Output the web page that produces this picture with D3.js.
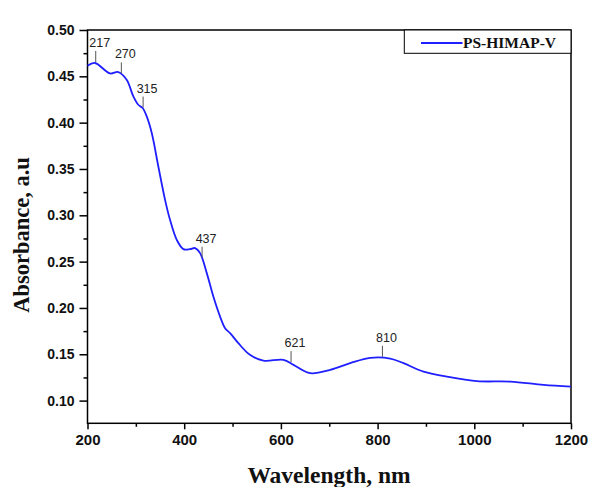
<!DOCTYPE html>
<html>
<head>
<meta charset="utf-8">
<script src="https://cdn.jsdelivr.net/npm/d3@7"></script>
<style>
  html, body { margin: 0; padding: 0; background: #fff; }
  svg { display: block; }
</style>
</head>
<body>
<svg id="chart" width="592" height="487"></svg>
<script>
// UV-Vis-NIR absorbance spectrum of PS-HIMAP-V
const wavelength = [200, 215.5, 246.6, 263.7, 281, 294.8, 305, 314, 322.5, 332.9,
  346.5, 360.4, 370.7, 384.6, 398.3, 412, 422.5, 432.8, 446.7, 460.3,
  474.2, 484.5, 494.9, 512, 536, 563.8, 605.2, 626, 660.5, 701.9,
  743.3, 784.7, 826, 853.6, 895, 950, 1005.5, 1074.4, 1143.3, 1200];
const absorbance = [0.4614, 0.4644, 0.4531, 0.4546, 0.4463, 0.4283, 0.4193, 0.4158, 0.4067, 0.3888,
  0.3527, 0.3167, 0.2951, 0.2735, 0.2635, 0.2635, 0.2646, 0.2592, 0.2376, 0.2123,
  0.1907, 0.1782, 0.1728, 0.162, 0.1494, 0.1432, 0.144, 0.1386, 0.1296, 0.1332,
  0.1404, 0.1461, 0.1454, 0.1404, 0.1313, 0.1253, 0.121, 0.1205, 0.117, 0.1151];

// Annotated band positions (nm)
const peaks = [217, 270, 315, 437, 621, 810];

const xTicks = [200, 400, 600, 800, 1000, 1200];
const xMinorTicks = [300, 500, 700, 900, 1100];
const yTicks = [0.10, 0.15, 0.20, 0.25, 0.30, 0.35, 0.40, 0.45, 0.50];
const yMinorTicks = [0.125, 0.175, 0.225, 0.275, 0.325, 0.375, 0.425, 0.475];

const seriesName = "PS-HIMAP-V";
const xTitle = "Wavelength, nm";
const yTitle = "Absorbance, a.u";

const svg = d3.select("#chart");
const m = { left: 87.5, right: 571, top: 30, bottom: 423.3 };

const x = d3.scaleLinear().domain([200, 1200]).range([m.left, m.right]);
const y = d3.scaleLinear().domain([0.0755, 0.50]).range([m.bottom, m.top]);

const spectrum = wavelength.map((w, i) => ({ w, a: absorbance[i] }));

// Frame
svg.append("rect")
  .attr("x", m.left).attr("y", m.top)
  .attr("width", m.right - m.left).attr("height", m.bottom - m.top)
  .attr("fill", "none").attr("stroke", "#000").attr("stroke-width", 1.5);

const tickFont = "'Liberation Sans', Arial, sans-serif";

// X axis
const gx = svg.append("g").attr("transform", `translate(0,${m.bottom})`);
gx.call(d3.axisBottom(x).tickValues(xTicks).tickSize(6).tickPadding(5).tickFormat(d3.format("d")));
gx.append("g").call(d3.axisBottom(x).tickValues(xMinorTicks).tickSize(3.5).tickFormat(""));
gx.selectAll(".domain").remove();
gx.selectAll("line").attr("stroke", "#000").attr("stroke-width", 1.5);
gx.selectAll("text")
  .attr("font-family", tickFont).attr("font-weight", "bold")
  .attr("font-size", "15px").attr("fill", "#111");

// Y axis
const gy = svg.append("g").attr("transform", `translate(${m.left},0)`);
gy.call(d3.axisLeft(y).tickValues(yTicks).tickSize(8).tickPadding(5).tickFormat(d3.format(".2f")));
gy.append("g").call(d3.axisLeft(y).tickValues(yMinorTicks).tickSize(4).tickFormat(""));
gy.selectAll(".domain").remove();
gy.selectAll("line").attr("stroke", "#000").attr("stroke-width", 1.5);
gy.selectAll("text")
  .attr("font-family", tickFont).attr("font-weight", "bold")
  .attr("font-size", "14px").attr("fill", "#111");

// Axis titles
const titleFont = "'Liberation Serif', 'Times New Roman', serif";
svg.append("text")
  .attr("x", 329).attr("y", 483)
  .attr("text-anchor", "middle")
  .attr("font-family", titleFont).attr("font-weight", "bold")
  .attr("font-size", "23.5px").attr("fill", "#111")
  .text(xTitle);
svg.append("text")
  .attr("transform", "translate(29,235) rotate(-90)")
  .attr("text-anchor", "middle")
  .attr("font-family", titleFont).attr("font-weight", "bold")
  .attr("font-size", "22.5px").attr("fill", "#111")
  .text(yTitle);

// Spectrum
const line = d3.line()
  .x(d => x(d.w)).y(d => y(d.a))
  .curve(d3.curveCatmullRom.alpha(0.5));
svg.append("path")
  .datum(spectrum)
  .attr("fill", "none")
  .attr("stroke", "#1f1fff")
  .attr("stroke-width", 1.8)
  .attr("d", line);

// Band annotations
const absAt = d3.scaleLinear().domain(wavelength).range(absorbance);
const stem = 11;
const ann = svg.append("g");
peaks.forEach(p => {
  const px = x(p), py = y(absAt(p)) - 1.5;
  ann.append("line")
    .attr("x1", px).attr("x2", px)
    .attr("y1", py).attr("y2", py - stem)
    .attr("stroke", "#555").attr("stroke-width", 1);
  ann.append("text")
    .attr("x", px + 4).attr("y", py - stem - 4)
    .attr("text-anchor", "middle")
    .attr("font-family", tickFont)
    .attr("font-size", "12.5px").attr("fill", "#222")
    .text(p);
});

// Legend
const lg = svg.append("g");
lg.append("rect")
  .attr("x", 404.3).attr("y", m.top)
  .attr("width", m.right - 404.3).attr("height", 23.3)
  .attr("fill", "#fff").attr("stroke", "#000").attr("stroke-width", 1);
lg.append("line")
  .attr("x1", 421).attr("x2", 462.5)
  .attr("y1", 43).attr("y2", 43)
  .attr("stroke", "#1f1fff").attr("stroke-width", 1.8);
lg.append("text")
  .attr("x", 463).attr("y", 47.7)
  .attr("font-family", titleFont).attr("font-weight", "bold")
  .attr("font-size", "15.5px").attr("fill", "#111")
  .text(seriesName);
</script>
</body>
</html>
